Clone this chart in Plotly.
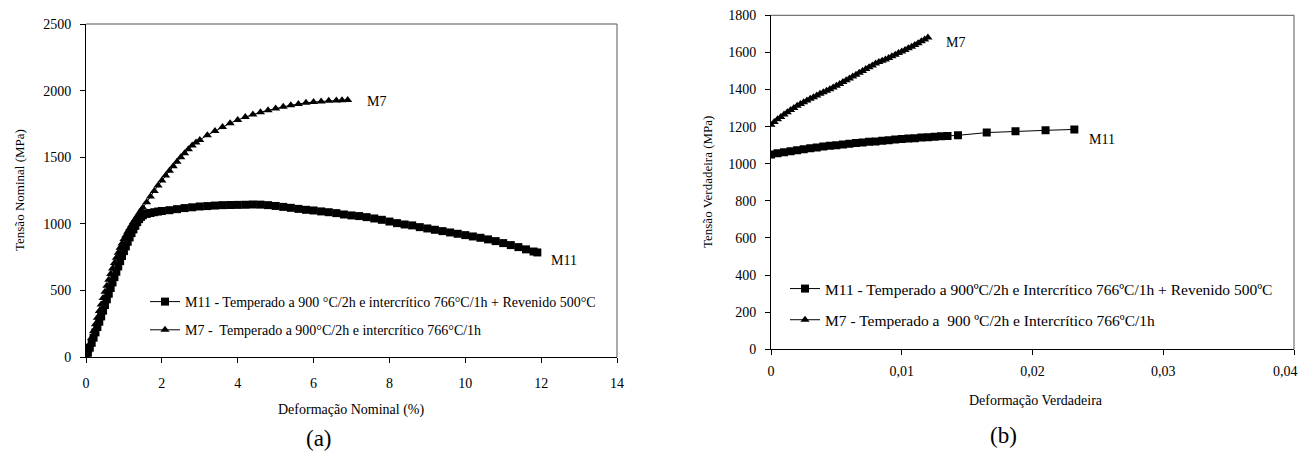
import plotly.graph_objects as go

# (a) tensão x deformação nominal
m7_a_x = [0, 0.05, 0.1, 0.15, 0.2, 0.25, 0.3, 0.35, 0.4, 0.45, 0.5, 0.55, 0.6, 0.65,
          0.7, 0.75, 0.8, 0.85, 0.9, 0.95, 1.0, 1.05, 1.1, 1.15, 1.2, 1.25, 1.3, 1.35,
          1.4, 1.45, 1.5, 1.6, 1.7, 1.8, 1.9, 2.0, 2.1, 2.2, 2.3, 2.4, 2.5, 2.6, 2.7,
          2.8, 2.9, 3.0, 3.2, 3.4, 3.6, 3.8, 4.0, 4.2, 4.4, 4.6, 4.8, 5.0, 5.2, 5.4,
          5.6, 5.8, 6.0, 6.2, 6.4, 6.6, 6.75, 6.9]
m7_a_y = [0, 48, 95, 145, 195, 245, 295, 345, 395, 443, 490, 535, 580, 623,
          665, 705, 745, 783, 820, 853, 885, 913, 940, 965, 990, 1013, 1035, 1057,
          1078, 1100, 1120, 1162, 1205, 1247, 1287, 1325, 1362, 1398, 1432, 1466, 1500, 1530, 1560,
          1588, 1610, 1630, 1665, 1697, 1727, 1755, 1780, 1802, 1820, 1838, 1853, 1866, 1878, 1890,
          1900, 1908, 1914, 1919, 1923, 1926, 1928, 1930]

m11_a_x = [0, 0.05, 0.1, 0.15, 0.2, 0.25, 0.3, 0.35, 0.4, 0.45, 0.5, 0.55, 0.6, 0.65,
           0.7, 0.75, 0.8, 0.85, 0.9, 0.95, 1.0, 1.05, 1.1, 1.15, 1.2, 1.25, 1.3, 1.35,
           1.4, 1.45, 1.5, 1.6, 1.7, 1.8, 1.9, 2.0, 2.2, 2.4, 2.6, 2.8, 3.0, 3.2, 3.4,
           3.6, 3.8, 4.0, 4.2, 4.4, 4.6, 4.8, 5.0, 5.2, 5.4, 5.6, 5.8, 6.0, 6.2, 6.4,
           6.6, 6.8, 7.0, 7.2, 7.4, 7.6, 7.8, 8.0, 8.2, 8.4, 8.6, 8.8, 9.0, 9.2, 9.4,
           9.6, 9.8, 10.0, 10.2, 10.4, 10.6, 10.8, 11.0, 11.2, 11.4, 11.6, 11.8, 11.9]
m11_a_y = [0, 32, 70, 107, 145, 185, 225, 265, 305, 348, 390, 433, 475, 518,
           560, 600, 640, 680, 720, 758, 795, 830, 865, 898, 930, 958, 985, 1012,
           1035, 1052, 1064, 1074, 1081, 1087, 1092, 1096, 1102, 1110, 1118, 1124, 1130, 1133, 1137,
           1140, 1141, 1142, 1143, 1145, 1144, 1140, 1134, 1127, 1120, 1112, 1105, 1100, 1093, 1087,
           1080, 1070, 1063, 1058, 1050, 1040, 1030, 1017, 1005, 995, 988, 975, 965, 955, 945,
           935, 925, 915, 905, 895, 883, 870, 855, 840, 825, 808, 792, 785]

# (b) tensão x deformação verdadeira
m7_b_x = [0, 0.00025, 0.0005, 0.00075, 0.001, 0.00125, 0.0015, 0.00175, 0.002,
          0.00225, 0.0025, 0.00275, 0.003, 0.00325, 0.0035, 0.00375, 0.004,
          0.00425, 0.0045, 0.00475, 0.005, 0.00525, 0.0055, 0.00575, 0.006,
          0.00625, 0.0065, 0.00675, 0.007, 0.00725, 0.0075, 0.00775, 0.008,
          0.00825, 0.0085, 0.00875, 0.009, 0.00925, 0.0095, 0.00975, 0.01,
          0.01025, 0.0105, 0.01075, 0.011, 0.01125, 0.0115, 0.01175, 0.012]
m7_b_y = [1210, 1225, 1240, 1252, 1265, 1278, 1290, 1301, 1312,
          1322, 1332, 1341, 1350, 1359, 1368, 1377, 1385,
          1394, 1402, 1411, 1420, 1430, 1440, 1450, 1460,
          1470, 1480, 1490, 1500, 1510, 1520, 1530, 1540,
          1548, 1555, 1562, 1570, 1579, 1588, 1597, 1605,
          1613, 1622, 1631, 1640, 1650, 1660, 1670, 1680]

m11_b_x = [0, 0.0005, 0.001, 0.0015, 0.002, 0.0025, 0.003, 0.0035, 0.004, 0.0045,
           0.005, 0.0055, 0.006, 0.0065, 0.007, 0.0075, 0.008, 0.0085, 0.009, 0.0095,
           0.01, 0.0105, 0.011, 0.0115, 0.012, 0.0125, 0.013, 0.0135, 0.0143,
           0.0165, 0.0187, 0.021, 0.0232]
m11_b_y = [1050, 1056, 1062, 1068, 1073, 1078, 1083, 1088, 1093, 1097,
           1100, 1104, 1108, 1112, 1115, 1118, 1120, 1124, 1127, 1130,
           1133, 1136, 1138, 1141, 1143, 1146, 1148, 1150, 1153,
           1168, 1175, 1180, 1185]

xb_ticks = [0, 0.01, 0.02, 0.03, 0.04]
xb_labels = ["0", "0,01", "0,02", "0,03", "0,04"]

leg_a = ["M11 - Temperado a 900 °C/2h e intercrítico 766°C/1h + Revenido 500°C",
         "M7 -  Temperado a 900°C/2h e intercrítico 766°C/1h"]
leg_b = ["M11 - Temperado a 900ºC/2h e Intercrítico 766ºC/1h + Revenido 500ºC",
         "M7 - Temperado a  900 ºC/2h e Intercrítico 766ºC/1h"]

FONT = "Liberation Serif, Times New Roman, serif"
# the page body adds an 8 px margin all round; keep the figure inside it
OFF = 8
W, H = 1308 - 2 * OFF, 459 - 2 * OFF


def px(x):
    return (x - OFF) / W


def py(y):
    return 1 - (y - OFF) / H


fig = go.Figure()


def add(x, y, name, symbol, xa, ya, legend, group):
    fig.add_trace(go.Scatter(
        x=x, y=y, name=name, mode="lines+markers",
        line=dict(color="black", width=1),
        marker=dict(symbol=symbol, size=8, color="black"),
        xaxis=xa, yaxis=ya, legend=legend, legendgroup=group,
    ))


add(m11_a_x, m11_a_y, leg_a[0], "square", "x", "y", "legend", "a1")
add(m7_a_x, m7_a_y, leg_a[1], "triangle-up", "x", "y", "legend", "a2")
add(m11_b_x, m11_b_y, leg_b[0], "square", "x2", "y2", "legend2", "b1")
add(m7_b_x, m7_b_y, leg_b[1], "triangle-up", "x2", "y2", "legend2", "b2")

axis_common = dict(
    showline=True, linecolor="black", linewidth=1,
    ticks="outside", ticklen=5, tickcolor="black",
    showgrid=False, zeroline=False, automargin=False,
    tickfont=dict(family=FONT, size=14, color="black"),
)

fig.update_layout(
    width=W, height=H,
    margin=dict(l=0, r=0, t=0, b=0, autoexpand=False),
    template="none",
    paper_bgcolor="white", plot_bgcolor="white",
    separators=", ",
    font=dict(family=FONT, color="black"),
    xaxis=dict(domain=[px(86), px(617)], range=[0, 14], dtick=2,
               ticklabelstandoff=8, anchor="y", **axis_common),
    yaxis=dict(domain=[py(357), py(24)], range=[0, 2500], dtick=500,
               ticklabelstandoff=6, anchor="x", **axis_common),
    # the last label sits at the page edge, so it is drawn as an annotation below
    xaxis2=dict(domain=[px(771), px(1294)], range=[0, 0.04],
                tickvals=xb_ticks, ticktext=xb_labels[:-1] + [""],
                ticklabelstandoff=4, anchor="y2", **axis_common),
    yaxis2=dict(domain=[py(349.3), py(15.3)], range=[0, 1800], dtick=200,
                ticklabelstandoff=6, anchor="x2", **axis_common),
    legend=dict(x=px(145), y=py(286), xanchor="left", yanchor="top",
                bgcolor="rgba(0,0,0,0)", itemwidth=30, tracegroupgap=7,
                font=dict(family=FONT, size=14, color="black")),
    legend2=dict(x=px(785), y=py(272), xanchor="left", yanchor="top",
                 bgcolor="rgba(0,0,0,0)", itemwidth=30, tracegroupgap=8,
                 font=dict(family=FONT, size=15.5, color="black")),
)

# grey top and right frame lines of each plot area
for xa, ya in (("x", "y"), ("x2", "y2")):
    fig.add_shape(type="line", xref=xa + " domain", yref=ya + " domain",
                  x0=0, x1=1, y0=1, y1=1, line=dict(color="#555555", width=1))
    fig.add_shape(type="line", xref=xa + " domain", yref=ya + " domain",
                  x0=1, x1=1, y0=0, y1=1, line=dict(color="#555555", width=1))

fig.add_annotation(text=xb_labels[-1], x=1, y=py(371), xref="paper", yref="paper",
                   xanchor="right", yanchor="middle", showarrow=False,
                   font=dict(family=FONT, size=14, color="black"))

# curve labels
labels = [("M7", 7.35, 1920, "x", "y"), ("M11", 12.2, 725, "x", "y"),
          ("M7", 0.01325, 1656, "x2", "y2"), ("M11", 0.02414, 1128, "x2", "y2")]
for txt, lx, ly, xr, yr in labels:
    fig.add_annotation(text=txt, x=lx, y=ly, xref=xr, yref=yr,
                       xanchor="left", yanchor="middle", showarrow=False,
                       font=dict(family=FONT, size=14, color="black"))

# axis titles and panel letters
titles = [("Deformação Nominal (%)", 351, 410, 0, 14),
          ("Tensão Nominal (MPa)", 19, 190, -90, 13),
          ("Deformação Verdadeira", 1036, 400, 0, 14),
          ("Tensão Verdadeira (MPa)", 708, 182, -90, 13),
          ("(a)", 319, 438, 0, 23),
          ("(b)", 1003, 435, 0, 23)]
for txt, tx, ty, ang, sz in titles:
    fig.add_annotation(text=txt, x=px(tx), y=py(ty), xref="paper", yref="paper",
                       xanchor="center", yanchor="middle",
                       showarrow=False, textangle=ang,
                       font=dict(family=FONT, size=sz, color="black"))

fig.write_html("out.html")
